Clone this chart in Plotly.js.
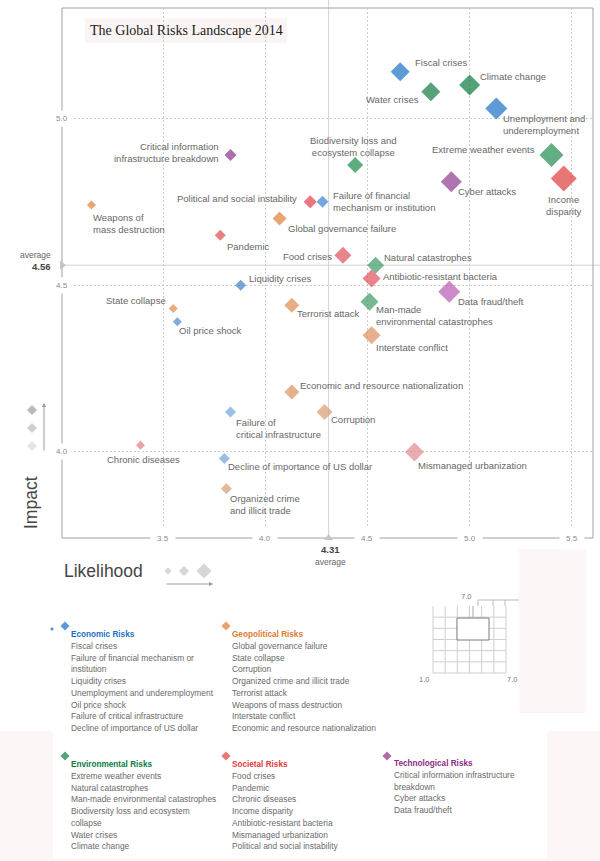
<!DOCTYPE html>
<html><head><meta charset="utf-8">
<script src="https://cdn.plot.ly/plotly-3.0.1.min.js"></script>
<style>html,body{margin:0;padding:0;background:#fff}#chart{width:600px;height:861px}</style>
</head><body><div id="chart"></div>
<script>
// ---------------- DATA ----------------
const risks = [
  "Weapons of mass destruction","Chronic diseases","State collapse","Oil price shock",
  "Pandemic","Decline of importance of US dollar","Organized crime and illicit trade",
  "Failure of critical infrastructure","Critical information infrastructure breakdown","Liquidity crises",
  "Global governance failure","Terrorist attack","Economic and resource nationalization",
  "Political and social instability","Failure of financial mechanism or institution","Corruption",
  "Biodiversity loss and ecosystem collapse","Food crises","Natural catastrophes",
  "Man-made environmental catastrophes","Interstate conflict","Antibiotic-resistant bacteria",
  "Mismanaged urbanization","Fiscal crises","Water crises","Cyber attacks","Data fraud/theft",
  "Climate change","Unemployment and underemployment","Extreme weather events","Income disparity"
];
const category = [
  "Geopolitical","Societal","Geopolitical","Economic",
  "Societal","Economic","Geopolitical",
  "Economic","Technological","Economic",
  "Geopolitical","Geopolitical","Geopolitical",
  "Societal","Economic","Geopolitical",
  "Environmental","Societal","Environmental",
  "Environmental","Geopolitical","Societal",
  "Societal","Economic","Environmental","Technological","Technological",
  "Environmental","Economic","Environmental","Societal"
];
const likelihood = [
  3.15,3.39,3.55,3.57,
  3.78,3.80,3.81,
  3.83,3.83,3.88,
  4.07,4.13,4.13,
  4.22,4.28,4.29,
  4.44,4.38,4.54,
  4.51,4.52,4.52,
  4.73,4.66,4.81,4.91,4.90,
  5.00,5.13,5.40,5.46
];
const impact = [
  4.74,4.02,4.43,4.39,
  4.65,3.98,3.89,
  4.12,4.89,4.50,
  4.70,4.44,4.18,
  4.75,4.75,4.12,
  4.86,4.59,4.56,
  4.45,4.35,4.52,
  4.00,5.14,5.08,4.81,4.48,
  5.10,5.03,4.89,4.82
];
// relative marker size (diamond width)
const prominence = [
  9,9,9,9,
  11,11,11,
  11,12,11,
  14,15,15,
  13,12,16,
  16,17,17,
  18,18,18,
  19,19,19,21,22,
  21,22,24,26
];
const avgLikelihood = 4.31;
const avgImpact = 4.56;
const xTicks = [3.5, 4.0, 4.5, 5.0, 5.5];
const yTicks = [4.0, 4.5, 5.0];
const xTickLabels = ["3.5","4.0","4.5","5.0","5.5"];
const yTickLabels = ["4.0","4.5","5.0"];
const chartTitle = "The Global Risks Landscape 2014";

const legendGroups = [
  {name:"Economic Risks", lines:["Fiscal crises","Failure of financial mechanism or","institution","Liquidity crises","Unemployment and underemployment","Oil price shock","Failure of critical infrastructure","Decline of importance of US dollar"]},
  {name:"Geopolitical Risks", lines:["Global governance failure","State collapse","Corruption","Organized crime and illicit trade","Terrorist attack","Weapons of mass destruction","Interstate conflict","Economic and resource nationalization"]},
  {name:"Environmental Risks", lines:["Extreme weather events","Natural catastrophes","Man-made environmental catastrophes","Biodiversity loss and ecosystem","collapse","Water crises","Climate change"]},
  {name:"Societal Risks", lines:["Food crises","Pandemic","Chronic diseases","Income disparity","Antibiotic-resistant bacteria","Mismanaged urbanization","Political and social instability"]},
  {name:"Technological Risks", lines:["Critical information infrastructure","breakdown","Cyber attacks","Data fraud/theft"]}
];

// ---------------- STYLE ----------------
const groupColor = {Economic:"#1a6fc4", Geopolitical:"#e07a2e", Environmental:"#0b7a3e", Societal:"#e23a3c", Technological:"#8a2c86"};
const pointColor = {
  "Weapons of mass destruction":"#e07f3a","Chronic diseases":"#e07a80","State collapse":"#e08a4e","Oil price shock":"#4a88cc",
  "Pandemic":"#e04848","Decline of importance of US dollar":"#6fa3dc","Organized crime and illicit trade":"#d89a70",
  "Failure of critical infrastructure":"#6fa3dc","Critical information infrastructure breakdown":"#8e2f8c","Liquidity crises":"#3d7fc8",
  "Global governance failure":"#e07f3a","Terrorist attack":"#e08a4e","Economic and resource nationalization":"#d8905f",
  "Political and social instability":"#e23c44","Failure of financial mechanism or institution":"#3a80d0","Corruption":"#d89a70",
  "Biodiversity loss and ecosystem collapse":"#1a8a4a","Food crises":"#e0505a","Natural catastrophes":"#3d9a64",
  "Man-made environmental catastrophes":"#3d9a64","Interstate conflict":"#dc8e5c","Antibiotic-resistant bacteria":"#e0505a",
  "Mismanaged urbanization":"#e08a90","Fiscal crises":"#1a6fc4","Water crises":"#127a40","Cyber attacks":"#8e3a90","Data fraud/theft":"#b35ab0",
  "Climate change":"#0a7a3c","Unemployment and underemployment":"#1a6fc4","Extreme weather events":"#1f8a4d","Income disparity":"#e03c3c"
};
// label placement: [xanchor, dx, dy (px, down positive), display text]
const labelPlace = {
  "Fiscal crises":["left",14,-9,"Fiscal crises"],
  "Climate change":["left",9,-9,"Climate change"],
  "Water crises":["right",-11,8,"Water crises"],
  "Unemployment and underemployment":["left",6,16,"Unemployment and<br>underemployment"],
  "Extreme weather events":["right",-15,-6,"Extreme weather events"],
  "Income disparity":["center",0,27,"Income<br>disparity"],
  "Cyber attacks":["left",6,10,"Cyber attacks"],
  "Biodiversity loss and ecosystem collapse":["center",-2,-19,"Biodiversity loss and<br>ecosystem collapse"],
  "Failure of financial mechanism or institution":["left",10,0,"Failure of financial<br>mechanism or institution"],
  "Political and social instability":["right",-12,-3,"Political and social instability"],
  "Global governance failure":["left",7,10,"Global governance failure"],
  "Critical information infrastructure breakdown":["right",-10,-3,"Critical information<br>infrastructure breakdown"],
  "Weapons of mass destruction":["left",1,18,"Weapons of<br>mass destruction"],
  "Pandemic":["left",6,11,"Pandemic"],
  "Food crises":["right",-10,1,"Food crises"],
  "Natural catastrophes":["left",7,-8,"Natural catastrophes"],
  "Antibiotic-resistant bacteria":["left",10,-2,"Antibiotic-resistant bacteria"],
  "Data fraud/theft":["left",8,10,"Data fraud/theft"],
  "Man-made environmental catastrophes":["left",5,14,"Man-made<br>environmental catastrophes"],
  "Interstate conflict":["left",3,12,"Interstate conflict"],
  "Terrorist attack":["left",4,8,"Terrorist attack"],
  "Liquidity crises":["left",7,-7,"Liquidity crises"],
  "State collapse":["right",-6,-8,"State collapse"],
  "Oil price shock":["left",1,9,"Oil price shock"],
  "Economic and resource nationalization":["left",7,-6,"Economic and resource nationalization"],
  "Corruption":["left",5,8,"Corruption"],
  "Failure of critical infrastructure":["left",5,17,"Failure of<br>critical infrastructure"],
  "Chronic diseases":["center",3,14,"Chronic diseases"],
  "Decline of importance of US dollar":["left",3,8,"Decline of importance of US dollar"],
  "Organized crime and illicit trade":["left",3,16,"Organized crime<br>and illicit trade"],
  "Mismanaged urbanization":["left",2,14,"Mismanaged urbanization"]
};

const W = 600, H = 861;
const FONT = "Liberation Sans, Arial, Helvetica, sans-serif";
const xRange = [3.006, 5.603], yRange = [3.742, 5.331];
const plotL = 62, plotR = 593, plotT = 8, plotB = 538;

const traces = [];
traces.push({
  type:"scatter", mode:"markers", x: likelihood, y: impact, xaxis:"x", yaxis:"y",
  text: risks, hoverinfo:"skip", cliponaxis:false,
  marker:{symbol:"diamond", size: prominence.map(w => w/1.3), color: risks.map((r,i) => pointColor[r] || groupColor[category[i]]), line:{width:0}}
});
// average markers (triangles)
traces.push({type:"scatter", mode:"markers", x:[xRange[0]], y:[avgImpact], xaxis:"x", yaxis:"y", cliponaxis:false, hoverinfo:"skip",
  marker:{symbol:"triangle-right", size:8, color:"#c4c4c4"}});
traces.push({type:"scatter", mode:"markers", x:[avgLikelihood], y:[yRange[0]], xaxis:"x", yaxis:"y", cliponaxis:false, hoverinfo:"skip",
  marker:{symbol:"triangle-up", size:8, color:"#c4c4c4"}});

// decorative legend marks in pixel overlay axes
traces.push({type:"scatter", mode:"markers", xaxis:"x2", yaxis:"y2", hoverinfo:"skip", cliponaxis:false,
  x:[32,32,32, 168,184,204], y:[410,428,446, 571,571,571],
  marker:{symbol:"diamond", size:[10/1.3,10/1.3,10/1.3,7/1.3,10/1.3,15/1.3], color:["#9c9c9c","#bababa","#dadada","#c4c4c4","#c4c4c4","#c4c4c4"], line:{width:0}}});
const legendPos = [[65,626,70,634],[226,626,231,634],[65,756,70,764],[226,756,231,764],[387,756,393,763]];
const legendKeys = ["Economic","Geopolitical","Environmental","Societal","Technological"];
traces.push({type:"scatter", mode:"markers", xaxis:"x2", yaxis:"y2", hoverinfo:"skip", cliponaxis:false,
  x: legendPos.map(p=>p[0]).concat([52]), y: legendPos.map(p=>p[1]).concat([629]),
  marker:{symbol:"diamond", size: legendPos.map(()=>7).concat([3]), color: legendKeys.map(k=>groupColor[k]).concat([groupColor.Economic]), line:{width:0}}});

const ann = [];
// point labels
risks.forEach((r,i) => {
  const p = labelPlace[r];
  ann.push({xref:"x", yref:"y", x: likelihood[i], y: impact[i], text: p[3], showarrow:false,
    xanchor: p[0], yanchor:"middle", xshift: p[1], yshift: -p[2], align: p[0]==="center"?"center":(p[0]==="right"?"right":"left"),
    font:{family:FONT, size:9.5, color:"#676767"}, borderpad:0});
});
// tick labels
xTicks.forEach((v,i) => ann.push({xref:"x", yref:"y domain", x:v, y:0, text:xTickLabels[i], showarrow:false,
  xanchor:"center", yanchor:"middle", bgcolor:"#ffffff", borderpad:6, font:{family:FONT, size:8, color:"#8a8a8a"}}));
yTicks.forEach((v,i) => ann.push({xref:"x domain", yref:"y", x:0, y:v, text:yTickLabels[i], showarrow:false,
  xanchor:"center", yanchor:"middle", bgcolor:"#ffffff", borderpad:3, font:{family:FONT, size:8, color:"#8a8a8a"}}));
// averages
ann.push({xref:"x2", yref:"y", x:53, y:avgImpact, yshift:10, text:"average", showarrow:false, xanchor:"right", yanchor:"middle", font:{family:FONT,size:8.5,color:"#666"}});
ann.push({xref:"x2", yref:"y", x:53, y:avgImpact, yshift:-1, text:"<b>"+avgImpact.toFixed(2)+"</b>", showarrow:false, xanchor:"right", yanchor:"middle", font:{family:FONT,size:9.5,color:"#444"}});
ann.push({xref:"x", yref:"y2", x:avgLikelihood, y:549, xshift:2, text:"<b>"+avgLikelihood.toFixed(2)+"</b>", showarrow:false, xanchor:"center", yanchor:"middle", font:{family:FONT,size:9.5,color:"#444"}});
ann.push({xref:"x", yref:"y2", x:avgLikelihood, y:562, xshift:2, text:"average", showarrow:false, xanchor:"center", yanchor:"middle", font:{family:FONT,size:8.5,color:"#666"}});
// title
ann.push({xref:"x2", yref:"y2", x:186, y:30, text:chartTitle, showarrow:false, xanchor:"center", yanchor:"middle", font:{family:"Liberation Serif, Times New Roman, serif", size:14, color:"#1a1a1a"}});
// axis titles
ann.push({xref:"x2", yref:"y2", x:31, y:503, text:"Impact", textangle:-90, showarrow:false, xanchor:"center", yanchor:"middle", font:{family:FONT,size:17.5,color:"#454545"}});
ann.push({xref:"x2", yref:"y2", x:62, y:571, text:"Likelihood", showarrow:false, xanchor:"left", yanchor:"middle", font:{family:FONT,size:17.5,color:"#454545"}});
// size arrows
ann.push({xref:"x2", yref:"y2", x:213, y:584, axref:"x2", ayref:"y2", ax:165, ay:584, text:"", showarrow:true, arrowhead:2, arrowsize:0.8, arrowwidth:1, arrowcolor:"#9a9a9a"});
ann.push({xref:"x2", yref:"y2", x:44, y:403, axref:"x2", ayref:"y2", ax:44, ay:452, text:"", showarrow:true, arrowhead:2, arrowsize:0.8, arrowwidth:1, arrowcolor:"#9a9a9a"});
// legend texts
legendGroups.forEach((g,gi) => {
  const p = legendPos[gi];
  ann.push({xref:"x2", yref:"y2", x:p[2], y:p[3], text:"<b>"+g.name+"</b>", showarrow:false, xanchor:"left", yanchor:"middle", borderpad:0, font:{family:FONT,size:8.2,color:groupColor[legendKeys[gi]]}});
  g.lines.forEach((t,li) => ann.push({xref:"x2", yref:"y2", x:p[2], y:p[3]+12+li*11.7, text:t, showarrow:false, xanchor:"left", yanchor:"middle", borderpad:0, font:{family:FONT,size:8.4,color:"#6a6a6a"}}));
});
// inset labels
ann.push({xref:"x2", yref:"y2", x:466, y:596, text:"7.0", showarrow:false, font:{family:FONT,size:7.5,color:"#7a7a7a"}});
ann.push({xref:"x2", yref:"y2", x:424, y:679, text:"1.0", showarrow:false, font:{family:FONT,size:7.5,color:"#7a7a7a"}});
ann.push({xref:"x2", yref:"y2", x:512, y:679, text:"7.0", showarrow:false, font:{family:FONT,size:7.5,color:"#7a7a7a"}});

const shapes = [];
const px = x => x / W, py = y => 1 - y / H;
// background panels
shapes.push({type:"rect", xref:"paper", yref:"paper", x0:0, x1:1, y0:0, y1:py(731), fillcolor:"#fcf6f6", line:{width:0}, layer:"below"});
shapes.push({type:"rect", xref:"paper", yref:"paper", x0:px(53), x1:px(547), y0:py(858), y1:py(731), fillcolor:"#ffffff", line:{width:0}, layer:"below"});
shapes.push({type:"rect", xref:"paper", yref:"paper", x0:px(519), x1:px(586), y0:py(713), y1:py(549), fillcolor:"#fcf6f6", line:{width:0}, layer:"below"});
// title box
shapes.push({type:"rect", xref:"paper", yref:"paper", x0:px(85), x1:px(287), y0:py(43), y1:py(18), fillcolor:"#fbf4f4", line:{width:0}, layer:"below"});
// average lines
shapes.push({type:"line", xref:"paper", yref:"y", x0:px(plotL), x1:1, y0:avgImpact, y1:avgImpact, line:{color:"#d2d2d2", width:1}, layer:"below"});
shapes.push({type:"line", xref:"x", yref:"paper", x0:avgLikelihood, x1:avgLikelihood, y0:py(plotB), y1:1, line:{color:"#d2d2d2", width:1}, layer:"below"});
// frame
shapes.push({type:"rect", xref:"x domain", yref:"y domain", x0:0, x1:1, y0:0, y1:1, line:{color:"#a0a0a0", width:1}, fillcolor:"rgba(0,0,0,0)", layer:"below"});
// inset grid
const gx0 = 433, gx1 = 506, gy0 = 606, gy1 = 673;
for (let i = 0; i <= 6; i++) {
  const gx = gx0 + i*(gx1-gx0)/6;
  shapes.push({type:"line", xref:"x2", yref:"y2", x0:gx, x1:gx, y0:gy0, y1:gy1, line:{color:"#cfcfcf", width:1}});
}
for (let j = 1; j <= 6; j++) {
  const gy = gy0 + j*(gy1-gy0)/6;
  shapes.push({type:"line", xref:"x2", yref:"y2", x0:gx0, x1:gx1, y0:gy, y1:gy, line:{color:"#cfcfcf", width:1}});
}
shapes.push({type:"rect", xref:"x2", yref:"y2", x0:457, x1:489, y0:618, y1:640, fillcolor:"#ffffff", line:{color:"#7a7a7a", width:1}});
shapes.push({type:"line", xref:"x2", yref:"y2", x0:473, x1:473, y0:606, y1:617, line:{color:"#aaaaaa", width:1}});
shapes.push({type:"line", xref:"x2", yref:"y2", x0:478, x1:519, y0:600, y1:600, line:{color:"#bbbbbb", width:1}});
[478, 493, 505].forEach(bx => shapes.push({type:"line", xref:"x2", yref:"y2", x0:bx, x1:bx, y0:600, y1:606, line:{color:"#bbbbbb", width:1}}));

const layout = {
  width:W, height:H, margin:{l:0,r:0,t:0,b:0}, showlegend:false, hovermode:false,
  paper_bgcolor:"#ffffff", plot_bgcolor:"rgba(0,0,0,0)",
  xaxis:{domain:[plotL/W, plotR/W], range:xRange, anchor:"y", tickvals:xTicks, showticklabels:false, ticks:"",
    showgrid:true, gridcolor:"#cccccc", griddash:"2px,2px", gridwidth:1, zeroline:false, showline:false, fixedrange:true},
  yaxis:{domain:[1-plotB/H, 1-plotT/H], range:yRange, anchor:"x", tickvals:yTicks, showticklabels:false, ticks:"",
    showgrid:true, gridcolor:"#cccccc", griddash:"2px,2px", gridwidth:1, zeroline:false, showline:false, fixedrange:true},
  xaxis2:{domain:[0,1], range:[0,W], anchor:"y2", visible:false, fixedrange:true},
  yaxis2:{domain:[0,1], range:[H,0], anchor:"x2", visible:false, fixedrange:true},
  annotations: ann, shapes: shapes
};
Plotly.newPlot("chart", traces, layout, {staticPlot:true, displayModeBar:false});
</script></body></html>
